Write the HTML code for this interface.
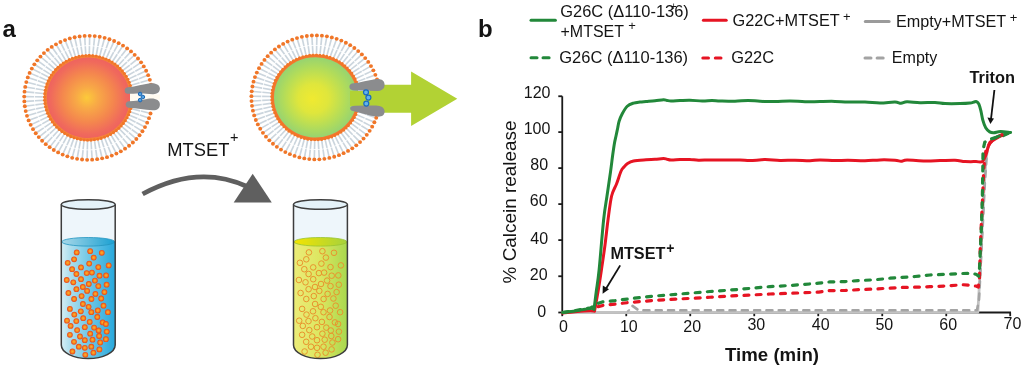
<!DOCTYPE html><html><head><meta charset="utf-8"><style>html,body{margin:0;padding:0;background:#fff;}svg{display:block;filter:blur(0.35px);}text{font-family:"Liberation Sans",sans-serif;fill:#141414;}</style></head><body>
<svg width="1024" height="370" viewBox="0 0 1024 370">
<defs>
<radialGradient id="coreA" cx="0.5" cy="0.5" r="0.5" fx="0.48" fy="0.5">
<stop offset="0" stop-color="#fcca3a"/><stop offset="0.25" stop-color="#f8aa46"/><stop offset="0.6" stop-color="#f4864e"/><stop offset="0.86" stop-color="#f06a5c"/><stop offset="1" stop-color="#ee6060"/></radialGradient>
<radialGradient id="coreB" cx="0.5" cy="0.5" r="0.5" fx="0.46" fy="0.52">
<stop offset="0" stop-color="#f0ea30"/><stop offset="0.35" stop-color="#dfe63c"/><stop offset="0.72" stop-color="#b2dc5a"/><stop offset="1" stop-color="#92d274"/></radialGradient>
<linearGradient id="liqA" x1="0" y1="0" x2="1" y2="0"><stop offset="0" stop-color="#d6eef4"/><stop offset="0.14" stop-color="#b2e0ee"/><stop offset="0.5" stop-color="#72c8e6"/><stop offset="1" stop-color="#28a8dc"/></linearGradient>
<linearGradient id="topA" x1="0" y1="0" x2="1" y2="0"><stop offset="0" stop-color="#a8d8e8"/><stop offset="1" stop-color="#1aa0d2"/></linearGradient>
<linearGradient id="liqB" x1="0" y1="0" x2="1" y2="0"><stop offset="0" stop-color="#ecec78"/><stop offset="0.5" stop-color="#dce660"/><stop offset="1" stop-color="#a8d84e"/></linearGradient>
<linearGradient id="topB" x1="0" y1="0" x2="1" y2="0"><stop offset="0" stop-color="#f4e400"/><stop offset="1" stop-color="#a6d23c"/></linearGradient>
<radialGradient id="dotg" cx="0.5" cy="0.5" r="0.5"><stop offset="0" stop-color="#fcb426"/><stop offset="0.45" stop-color="#f89020"/><stop offset="0.8" stop-color="#ee5a1c"/><stop offset="1" stop-color="#e64818"/></radialGradient>
</defs>
<text x="2.4" y="36.5" style="font-size:24px;font-weight:bold">a</text>
<polygon points="370,84.8 411.1,84.8 411.1,71.4 457.3,98.7 411.1,125.9 411.1,112.8 370,112.8" fill="#b2d234"/>
<g transform="translate(88.4,97.8) scale(1.035,1)"><circle cx="0" cy="0" r="41.8" fill="url(#coreA)"/><g stroke="#cbd5dd" stroke-width="1.6"><line x1="58.34" y1="15.25" x2="50.79" y2="13.27"/><line x1="50.02" y1="13.07" x2="42.57" y2="11.13"/><line x1="56.96" y1="19.78" x2="49.6" y2="17.22"/><line x1="48.84" y1="16.96" x2="41.57" y2="14.43"/><line x1="55.24" y1="24.19" x2="48.09" y2="21.06"/><line x1="47.36" y1="20.74" x2="40.31" y2="17.65"/><line x1="53.17" y1="28.44" x2="46.29" y2="24.77"/><line x1="45.59" y1="24.39" x2="38.8" y2="20.76"/><line x1="50.77" y1="32.53" x2="44.21" y2="28.32"/><line x1="43.53" y1="27.89" x2="37.05" y2="23.74"/><line x1="48.07" y1="36.41" x2="41.85" y2="31.7"/><line x1="41.21" y1="31.22" x2="35.07" y2="26.57"/><line x1="45.06" y1="40.07" x2="39.23" y2="34.89"/><line x1="38.63" y1="34.36" x2="32.88" y2="29.24"/><line x1="41.78" y1="43.48" x2="36.37" y2="37.86"/><line x1="35.82" y1="37.28" x2="30.48" y2="31.73"/><line x1="38.24" y1="46.63" x2="33.29" y2="40.6"/><line x1="32.78" y1="39.98" x2="27.9" y2="34.02"/><line x1="34.46" y1="49.48" x2="30" y2="43.08"/><line x1="29.55" y1="42.43" x2="25.15" y2="36.11"/><line x1="30.47" y1="52.03" x2="26.53" y2="45.3"/><line x1="26.13" y1="44.61" x2="22.24" y2="37.97"/><line x1="26.3" y1="54.26" x2="22.89" y2="47.25"/><line x1="22.55" y1="46.53" x2="19.19" y2="39.6"/><line x1="21.96" y1="56.16" x2="19.12" y2="48.9"/><line x1="18.83" y1="48.15" x2="16.02" y2="40.98"/><line x1="17.48" y1="57.71" x2="15.22" y2="50.24"/><line x1="14.99" y1="49.48" x2="12.76" y2="42.11"/><line x1="12.9" y1="58.9" x2="11.23" y2="51.28"/><line x1="11.06" y1="50.5" x2="9.41" y2="42.98"/><line x1="8.24" y1="59.73" x2="7.17" y2="52.01"/><line x1="7.06" y1="51.22" x2="6.01" y2="43.59"/><line x1="3.53" y1="60.2" x2="3.07" y2="52.41"/><line x1="3.02" y1="51.61" x2="2.57" y2="43.92"/><line x1="-1.21" y1="60.29" x2="-1.05" y2="52.49"/><line x1="-1.03" y1="51.69" x2="-0.88" y2="43.99"/><line x1="-5.93" y1="60.01" x2="-5.16" y2="52.25"/><line x1="-5.09" y1="51.45" x2="-4.33" y2="43.79"/><line x1="-10.62" y1="59.36" x2="-9.25" y2="51.68"/><line x1="-9.11" y1="50.89" x2="-7.75" y2="43.31"/><line x1="-15.25" y1="58.34" x2="-13.27" y2="50.79"/><line x1="-13.07" y1="50.02" x2="-11.13" y2="42.57"/><line x1="-19.78" y1="56.96" x2="-17.22" y2="49.6"/><line x1="-16.96" y1="48.84" x2="-14.43" y2="41.57"/><line x1="-24.19" y1="55.24" x2="-21.06" y2="48.09"/><line x1="-20.74" y1="47.36" x2="-17.65" y2="40.31"/><line x1="-28.44" y1="53.17" x2="-24.77" y2="46.29"/><line x1="-24.39" y1="45.59" x2="-20.76" y2="38.8"/><line x1="-32.53" y1="50.77" x2="-28.32" y2="44.21"/><line x1="-27.89" y1="43.53" x2="-23.74" y2="37.05"/><line x1="-36.41" y1="48.07" x2="-31.7" y2="41.85"/><line x1="-31.22" y1="41.21" x2="-26.57" y2="35.07"/><line x1="-40.07" y1="45.06" x2="-34.89" y2="39.23"/><line x1="-34.36" y1="38.63" x2="-29.24" y2="32.88"/><line x1="-43.48" y1="41.78" x2="-37.86" y2="36.37"/><line x1="-37.28" y1="35.82" x2="-31.73" y2="30.48"/><line x1="-46.63" y1="38.24" x2="-40.6" y2="33.29"/><line x1="-39.98" y1="32.78" x2="-34.02" y2="27.9"/><line x1="-49.48" y1="34.46" x2="-43.08" y2="30"/><line x1="-42.43" y1="29.55" x2="-36.11" y2="25.15"/><line x1="-52.03" y1="30.47" x2="-45.3" y2="26.53"/><line x1="-44.61" y1="26.13" x2="-37.97" y2="22.24"/><line x1="-54.26" y1="26.3" x2="-47.25" y2="22.89"/><line x1="-46.53" y1="22.55" x2="-39.6" y2="19.19"/><line x1="-56.16" y1="21.96" x2="-48.9" y2="19.12"/><line x1="-48.15" y1="18.83" x2="-40.98" y2="16.02"/><line x1="-57.71" y1="17.48" x2="-50.24" y2="15.22"/><line x1="-49.48" y1="14.99" x2="-42.11" y2="12.76"/><line x1="-58.9" y1="12.9" x2="-51.28" y2="11.23"/><line x1="-50.5" y1="11.06" x2="-42.98" y2="9.41"/><line x1="-59.73" y1="8.24" x2="-52.01" y2="7.17"/><line x1="-51.22" y1="7.06" x2="-43.59" y2="6.01"/><line x1="-60.2" y1="3.53" x2="-52.41" y2="3.07"/><line x1="-51.61" y1="3.02" x2="-43.92" y2="2.57"/><line x1="-60.29" y1="-1.21" x2="-52.49" y2="-1.05"/><line x1="-51.69" y1="-1.03" x2="-43.99" y2="-0.88"/><line x1="-60.01" y1="-5.93" x2="-52.25" y2="-5.16"/><line x1="-51.45" y1="-5.09" x2="-43.79" y2="-4.33"/><line x1="-59.36" y1="-10.62" x2="-51.68" y2="-9.25"/><line x1="-50.89" y1="-9.11" x2="-43.31" y2="-7.75"/><line x1="-58.34" y1="-15.25" x2="-50.79" y2="-13.27"/><line x1="-50.02" y1="-13.07" x2="-42.57" y2="-11.13"/><line x1="-56.96" y1="-19.78" x2="-49.6" y2="-17.22"/><line x1="-48.84" y1="-16.96" x2="-41.57" y2="-14.43"/><line x1="-55.24" y1="-24.19" x2="-48.09" y2="-21.06"/><line x1="-47.36" y1="-20.74" x2="-40.31" y2="-17.65"/><line x1="-53.17" y1="-28.44" x2="-46.29" y2="-24.77"/><line x1="-45.59" y1="-24.39" x2="-38.8" y2="-20.76"/><line x1="-50.77" y1="-32.53" x2="-44.21" y2="-28.32"/><line x1="-43.53" y1="-27.89" x2="-37.05" y2="-23.74"/><line x1="-48.07" y1="-36.41" x2="-41.85" y2="-31.7"/><line x1="-41.21" y1="-31.22" x2="-35.07" y2="-26.57"/><line x1="-45.06" y1="-40.07" x2="-39.23" y2="-34.89"/><line x1="-38.63" y1="-34.36" x2="-32.88" y2="-29.24"/><line x1="-41.78" y1="-43.48" x2="-36.37" y2="-37.86"/><line x1="-35.82" y1="-37.28" x2="-30.48" y2="-31.73"/><line x1="-38.24" y1="-46.63" x2="-33.29" y2="-40.6"/><line x1="-32.78" y1="-39.98" x2="-27.9" y2="-34.02"/><line x1="-34.46" y1="-49.48" x2="-30" y2="-43.08"/><line x1="-29.55" y1="-42.43" x2="-25.15" y2="-36.11"/><line x1="-30.47" y1="-52.03" x2="-26.53" y2="-45.3"/><line x1="-26.13" y1="-44.61" x2="-22.24" y2="-37.97"/><line x1="-26.3" y1="-54.26" x2="-22.89" y2="-47.25"/><line x1="-22.55" y1="-46.53" x2="-19.19" y2="-39.6"/><line x1="-21.96" y1="-56.16" x2="-19.12" y2="-48.9"/><line x1="-18.83" y1="-48.15" x2="-16.02" y2="-40.98"/><line x1="-17.48" y1="-57.71" x2="-15.22" y2="-50.24"/><line x1="-14.99" y1="-49.48" x2="-12.76" y2="-42.11"/><line x1="-12.9" y1="-58.9" x2="-11.23" y2="-51.28"/><line x1="-11.06" y1="-50.5" x2="-9.41" y2="-42.98"/><line x1="-8.24" y1="-59.73" x2="-7.17" y2="-52.01"/><line x1="-7.06" y1="-51.22" x2="-6.01" y2="-43.59"/><line x1="-3.53" y1="-60.2" x2="-3.07" y2="-52.41"/><line x1="-3.02" y1="-51.61" x2="-2.57" y2="-43.92"/><line x1="1.21" y1="-60.29" x2="1.05" y2="-52.49"/><line x1="1.03" y1="-51.69" x2="0.88" y2="-43.99"/><line x1="5.93" y1="-60.01" x2="5.16" y2="-52.25"/><line x1="5.09" y1="-51.45" x2="4.33" y2="-43.79"/><line x1="10.62" y1="-59.36" x2="9.25" y2="-51.68"/><line x1="9.11" y1="-50.89" x2="7.75" y2="-43.31"/><line x1="15.25" y1="-58.34" x2="13.27" y2="-50.79"/><line x1="13.07" y1="-50.02" x2="11.13" y2="-42.57"/><line x1="19.78" y1="-56.96" x2="17.22" y2="-49.6"/><line x1="16.96" y1="-48.84" x2="14.43" y2="-41.57"/><line x1="24.19" y1="-55.24" x2="21.06" y2="-48.09"/><line x1="20.74" y1="-47.36" x2="17.65" y2="-40.31"/><line x1="28.44" y1="-53.17" x2="24.77" y2="-46.29"/><line x1="24.39" y1="-45.59" x2="20.76" y2="-38.8"/><line x1="32.53" y1="-50.77" x2="28.32" y2="-44.21"/><line x1="27.89" y1="-43.53" x2="23.74" y2="-37.05"/><line x1="36.41" y1="-48.07" x2="31.7" y2="-41.85"/><line x1="31.22" y1="-41.21" x2="26.57" y2="-35.07"/><line x1="40.07" y1="-45.06" x2="34.89" y2="-39.23"/><line x1="34.36" y1="-38.63" x2="29.24" y2="-32.88"/><line x1="43.48" y1="-41.78" x2="37.86" y2="-36.37"/><line x1="37.28" y1="-35.82" x2="31.73" y2="-30.48"/><line x1="46.63" y1="-38.24" x2="40.6" y2="-33.29"/><line x1="39.98" y1="-32.78" x2="34.02" y2="-27.9"/><line x1="49.48" y1="-34.46" x2="43.08" y2="-30"/><line x1="42.43" y1="-29.55" x2="36.11" y2="-25.15"/><line x1="52.03" y1="-30.47" x2="45.3" y2="-26.53"/><line x1="44.61" y1="-26.13" x2="37.97" y2="-22.24"/><line x1="54.26" y1="-26.3" x2="47.25" y2="-22.89"/><line x1="46.53" y1="-22.55" x2="39.6" y2="-19.19"/><line x1="56.16" y1="-21.96" x2="48.9" y2="-19.12"/><line x1="48.15" y1="-18.83" x2="40.98" y2="-16.02"/><line x1="57.71" y1="-17.48" x2="50.24" y2="-15.22"/><line x1="49.48" y1="-14.99" x2="42.11" y2="-12.76"/><line x1="58.9" y1="-12.9" x2="51.28" y2="-11.23"/><line x1="50.5" y1="-11.06" x2="42.98" y2="-9.41"/></g><path d="M40.76,8.29 A41.6,41.6 0 1 1 40.76,-8.29" fill="none" stroke="#f5843a" stroke-width="2.8"/><g fill="#f07628"><circle cx="59.99" cy="15.68" r="1.9"/><circle cx="58.57" cy="20.33" r="1.9"/><circle cx="56.79" cy="24.87" r="1.9"/><circle cx="54.67" cy="29.25" r="1.9"/><circle cx="52.21" cy="33.45" r="1.9"/><circle cx="49.42" cy="37.44" r="1.9"/><circle cx="46.33" cy="41.2" r="1.9"/><circle cx="42.96" cy="44.71" r="1.9"/><circle cx="39.31" cy="47.94" r="1.9"/><circle cx="35.43" cy="50.88" r="1.9"/><circle cx="31.33" cy="53.5" r="1.9"/><circle cx="27.04" cy="55.79" r="1.9"/><circle cx="22.58" cy="57.74" r="1.9"/><circle cx="17.98" cy="59.34" r="1.9"/><circle cx="13.27" cy="60.56" r="1.9"/><circle cx="8.47" cy="61.42" r="1.9"/><circle cx="3.63" cy="61.89" r="1.9"/><circle cx="-1.24" cy="61.99" r="1.9"/><circle cx="-6.1" cy="61.7" r="1.9"/><circle cx="-10.92" cy="61.03" r="1.9"/><circle cx="-15.68" cy="59.99" r="1.9"/><circle cx="-20.33" cy="58.57" r="1.9"/><circle cx="-24.87" cy="56.79" r="1.9"/><circle cx="-29.25" cy="54.67" r="1.9"/><circle cx="-33.45" cy="52.21" r="1.9"/><circle cx="-37.44" cy="49.42" r="1.9"/><circle cx="-41.2" cy="46.33" r="1.9"/><circle cx="-44.71" cy="42.96" r="1.9"/><circle cx="-47.94" cy="39.31" r="1.9"/><circle cx="-50.88" cy="35.43" r="1.9"/><circle cx="-53.5" cy="31.33" r="1.9"/><circle cx="-55.79" cy="27.04" r="1.9"/><circle cx="-57.74" cy="22.58" r="1.9"/><circle cx="-59.34" cy="17.98" r="1.9"/><circle cx="-60.56" cy="13.27" r="1.9"/><circle cx="-61.42" cy="8.47" r="1.9"/><circle cx="-61.89" cy="3.63" r="1.9"/><circle cx="-61.99" cy="-1.24" r="1.9"/><circle cx="-61.7" cy="-6.1" r="1.9"/><circle cx="-61.03" cy="-10.92" r="1.9"/><circle cx="-59.99" cy="-15.68" r="1.9"/><circle cx="-58.57" cy="-20.33" r="1.9"/><circle cx="-56.79" cy="-24.87" r="1.9"/><circle cx="-54.67" cy="-29.25" r="1.9"/><circle cx="-52.21" cy="-33.45" r="1.9"/><circle cx="-49.42" cy="-37.44" r="1.9"/><circle cx="-46.33" cy="-41.2" r="1.9"/><circle cx="-42.96" cy="-44.71" r="1.9"/><circle cx="-39.31" cy="-47.94" r="1.9"/><circle cx="-35.43" cy="-50.88" r="1.9"/><circle cx="-31.33" cy="-53.5" r="1.9"/><circle cx="-27.04" cy="-55.79" r="1.9"/><circle cx="-22.58" cy="-57.74" r="1.9"/><circle cx="-17.98" cy="-59.34" r="1.9"/><circle cx="-13.27" cy="-60.56" r="1.9"/><circle cx="-8.47" cy="-61.42" r="1.9"/><circle cx="-3.63" cy="-61.89" r="1.9"/><circle cx="1.24" cy="-61.99" r="1.9"/><circle cx="6.1" cy="-61.7" r="1.9"/><circle cx="10.92" cy="-61.03" r="1.9"/><circle cx="15.68" cy="-59.99" r="1.9"/><circle cx="20.33" cy="-58.57" r="1.9"/><circle cx="24.87" cy="-56.79" r="1.9"/><circle cx="29.25" cy="-54.67" r="1.9"/><circle cx="33.45" cy="-52.21" r="1.9"/><circle cx="37.44" cy="-49.42" r="1.9"/><circle cx="41.2" cy="-46.33" r="1.9"/><circle cx="44.71" cy="-42.96" r="1.9"/><circle cx="47.94" cy="-39.31" r="1.9"/><circle cx="50.88" cy="-35.43" r="1.9"/><circle cx="53.5" cy="-31.33" r="1.9"/><circle cx="55.79" cy="-27.04" r="1.9"/><circle cx="57.74" cy="-22.58" r="1.9"/><circle cx="59.34" cy="-17.98" r="1.9"/><circle cx="60.56" cy="-13.27" r="1.9"/><circle cx="41.02" cy="10.72" r="1.55"/><circle cx="40.05" cy="13.91" r="1.55"/><circle cx="38.84" cy="17.01" r="1.55"/><circle cx="37.39" cy="20" r="1.55"/><circle cx="35.7" cy="22.87" r="1.55"/><circle cx="33.8" cy="25.6" r="1.55"/><circle cx="31.68" cy="28.18" r="1.55"/><circle cx="29.38" cy="30.57" r="1.55"/><circle cx="26.89" cy="32.79" r="1.55"/><circle cx="24.23" cy="34.79" r="1.55"/><circle cx="21.43" cy="36.59" r="1.55"/><circle cx="18.49" cy="38.16" r="1.55"/><circle cx="15.44" cy="39.49" r="1.55"/><circle cx="12.29" cy="40.58" r="1.55"/><circle cx="9.07" cy="41.42" r="1.55"/><circle cx="5.79" cy="42" r="1.55"/><circle cx="2.48" cy="42.33" r="1.55"/><circle cx="-0.85" cy="42.39" r="1.55"/><circle cx="-4.17" cy="42.19" r="1.55"/><circle cx="-7.47" cy="41.74" r="1.55"/><circle cx="-10.72" cy="41.02" r="1.55"/><circle cx="-13.91" cy="40.05" r="1.55"/><circle cx="-17.01" cy="38.84" r="1.55"/><circle cx="-20" cy="37.39" r="1.55"/><circle cx="-22.87" cy="35.7" r="1.55"/><circle cx="-25.6" cy="33.8" r="1.55"/><circle cx="-28.18" cy="31.68" r="1.55"/><circle cx="-30.57" cy="29.38" r="1.55"/><circle cx="-32.79" cy="26.89" r="1.55"/><circle cx="-34.79" cy="24.23" r="1.55"/><circle cx="-36.59" cy="21.43" r="1.55"/><circle cx="-38.16" cy="18.49" r="1.55"/><circle cx="-39.49" cy="15.44" r="1.55"/><circle cx="-40.58" cy="12.29" r="1.55"/><circle cx="-41.42" cy="9.07" r="1.55"/><circle cx="-42" cy="5.79" r="1.55"/><circle cx="-42.33" cy="2.48" r="1.55"/><circle cx="-42.39" cy="-0.85" r="1.55"/><circle cx="-42.19" cy="-4.17" r="1.55"/><circle cx="-41.74" cy="-7.47" r="1.55"/><circle cx="-41.02" cy="-10.72" r="1.55"/><circle cx="-40.05" cy="-13.91" r="1.55"/><circle cx="-38.84" cy="-17.01" r="1.55"/><circle cx="-37.39" cy="-20" r="1.55"/><circle cx="-35.7" cy="-22.87" r="1.55"/><circle cx="-33.8" cy="-25.6" r="1.55"/><circle cx="-31.68" cy="-28.18" r="1.55"/><circle cx="-29.38" cy="-30.57" r="1.55"/><circle cx="-26.89" cy="-32.79" r="1.55"/><circle cx="-24.23" cy="-34.79" r="1.55"/><circle cx="-21.43" cy="-36.59" r="1.55"/><circle cx="-18.49" cy="-38.16" r="1.55"/><circle cx="-15.44" cy="-39.49" r="1.55"/><circle cx="-12.29" cy="-40.58" r="1.55"/><circle cx="-9.07" cy="-41.42" r="1.55"/><circle cx="-5.79" cy="-42" r="1.55"/><circle cx="-2.48" cy="-42.33" r="1.55"/><circle cx="0.85" cy="-42.39" r="1.55"/><circle cx="4.17" cy="-42.19" r="1.55"/><circle cx="7.47" cy="-41.74" r="1.55"/><circle cx="10.72" cy="-41.02" r="1.55"/><circle cx="13.91" cy="-40.05" r="1.55"/><circle cx="17.01" cy="-38.84" r="1.55"/><circle cx="20" cy="-37.39" r="1.55"/><circle cx="22.87" cy="-35.7" r="1.55"/><circle cx="25.6" cy="-33.8" r="1.55"/><circle cx="28.18" cy="-31.68" r="1.55"/><circle cx="30.57" cy="-29.38" r="1.55"/><circle cx="32.79" cy="-26.89" r="1.55"/><circle cx="34.79" cy="-24.23" r="1.55"/><circle cx="36.59" cy="-21.43" r="1.55"/><circle cx="38.16" cy="-18.49" r="1.55"/><circle cx="39.49" cy="-15.44" r="1.55"/><circle cx="40.58" cy="-12.29" r="1.55"/><circle cx="41.42" cy="-9.07" r="1.55"/></g></g>
<g transform="translate(315.6,97.4) scale(1.035,1)"><circle cx="0" cy="0" r="41.8" fill="url(#coreB)"/><g stroke="#cbd5dd" stroke-width="1.6"><line x1="58.34" y1="15.25" x2="50.79" y2="13.27"/><line x1="50.02" y1="13.07" x2="42.57" y2="11.13"/><line x1="56.96" y1="19.78" x2="49.6" y2="17.22"/><line x1="48.84" y1="16.96" x2="41.57" y2="14.43"/><line x1="55.24" y1="24.19" x2="48.09" y2="21.06"/><line x1="47.36" y1="20.74" x2="40.31" y2="17.65"/><line x1="53.17" y1="28.44" x2="46.29" y2="24.77"/><line x1="45.59" y1="24.39" x2="38.8" y2="20.76"/><line x1="50.77" y1="32.53" x2="44.21" y2="28.32"/><line x1="43.53" y1="27.89" x2="37.05" y2="23.74"/><line x1="48.07" y1="36.41" x2="41.85" y2="31.7"/><line x1="41.21" y1="31.22" x2="35.07" y2="26.57"/><line x1="45.06" y1="40.07" x2="39.23" y2="34.89"/><line x1="38.63" y1="34.36" x2="32.88" y2="29.24"/><line x1="41.78" y1="43.48" x2="36.37" y2="37.86"/><line x1="35.82" y1="37.28" x2="30.48" y2="31.73"/><line x1="38.24" y1="46.63" x2="33.29" y2="40.6"/><line x1="32.78" y1="39.98" x2="27.9" y2="34.02"/><line x1="34.46" y1="49.48" x2="30" y2="43.08"/><line x1="29.55" y1="42.43" x2="25.15" y2="36.11"/><line x1="30.47" y1="52.03" x2="26.53" y2="45.3"/><line x1="26.13" y1="44.61" x2="22.24" y2="37.97"/><line x1="26.3" y1="54.26" x2="22.89" y2="47.25"/><line x1="22.55" y1="46.53" x2="19.19" y2="39.6"/><line x1="21.96" y1="56.16" x2="19.12" y2="48.9"/><line x1="18.83" y1="48.15" x2="16.02" y2="40.98"/><line x1="17.48" y1="57.71" x2="15.22" y2="50.24"/><line x1="14.99" y1="49.48" x2="12.76" y2="42.11"/><line x1="12.9" y1="58.9" x2="11.23" y2="51.28"/><line x1="11.06" y1="50.5" x2="9.41" y2="42.98"/><line x1="8.24" y1="59.73" x2="7.17" y2="52.01"/><line x1="7.06" y1="51.22" x2="6.01" y2="43.59"/><line x1="3.53" y1="60.2" x2="3.07" y2="52.41"/><line x1="3.02" y1="51.61" x2="2.57" y2="43.92"/><line x1="-1.21" y1="60.29" x2="-1.05" y2="52.49"/><line x1="-1.03" y1="51.69" x2="-0.88" y2="43.99"/><line x1="-5.93" y1="60.01" x2="-5.16" y2="52.25"/><line x1="-5.09" y1="51.45" x2="-4.33" y2="43.79"/><line x1="-10.62" y1="59.36" x2="-9.25" y2="51.68"/><line x1="-9.11" y1="50.89" x2="-7.75" y2="43.31"/><line x1="-15.25" y1="58.34" x2="-13.27" y2="50.79"/><line x1="-13.07" y1="50.02" x2="-11.13" y2="42.57"/><line x1="-19.78" y1="56.96" x2="-17.22" y2="49.6"/><line x1="-16.96" y1="48.84" x2="-14.43" y2="41.57"/><line x1="-24.19" y1="55.24" x2="-21.06" y2="48.09"/><line x1="-20.74" y1="47.36" x2="-17.65" y2="40.31"/><line x1="-28.44" y1="53.17" x2="-24.77" y2="46.29"/><line x1="-24.39" y1="45.59" x2="-20.76" y2="38.8"/><line x1="-32.53" y1="50.77" x2="-28.32" y2="44.21"/><line x1="-27.89" y1="43.53" x2="-23.74" y2="37.05"/><line x1="-36.41" y1="48.07" x2="-31.7" y2="41.85"/><line x1="-31.22" y1="41.21" x2="-26.57" y2="35.07"/><line x1="-40.07" y1="45.06" x2="-34.89" y2="39.23"/><line x1="-34.36" y1="38.63" x2="-29.24" y2="32.88"/><line x1="-43.48" y1="41.78" x2="-37.86" y2="36.37"/><line x1="-37.28" y1="35.82" x2="-31.73" y2="30.48"/><line x1="-46.63" y1="38.24" x2="-40.6" y2="33.29"/><line x1="-39.98" y1="32.78" x2="-34.02" y2="27.9"/><line x1="-49.48" y1="34.46" x2="-43.08" y2="30"/><line x1="-42.43" y1="29.55" x2="-36.11" y2="25.15"/><line x1="-52.03" y1="30.47" x2="-45.3" y2="26.53"/><line x1="-44.61" y1="26.13" x2="-37.97" y2="22.24"/><line x1="-54.26" y1="26.3" x2="-47.25" y2="22.89"/><line x1="-46.53" y1="22.55" x2="-39.6" y2="19.19"/><line x1="-56.16" y1="21.96" x2="-48.9" y2="19.12"/><line x1="-48.15" y1="18.83" x2="-40.98" y2="16.02"/><line x1="-57.71" y1="17.48" x2="-50.24" y2="15.22"/><line x1="-49.48" y1="14.99" x2="-42.11" y2="12.76"/><line x1="-58.9" y1="12.9" x2="-51.28" y2="11.23"/><line x1="-50.5" y1="11.06" x2="-42.98" y2="9.41"/><line x1="-59.73" y1="8.24" x2="-52.01" y2="7.17"/><line x1="-51.22" y1="7.06" x2="-43.59" y2="6.01"/><line x1="-60.2" y1="3.53" x2="-52.41" y2="3.07"/><line x1="-51.61" y1="3.02" x2="-43.92" y2="2.57"/><line x1="-60.29" y1="-1.21" x2="-52.49" y2="-1.05"/><line x1="-51.69" y1="-1.03" x2="-43.99" y2="-0.88"/><line x1="-60.01" y1="-5.93" x2="-52.25" y2="-5.16"/><line x1="-51.45" y1="-5.09" x2="-43.79" y2="-4.33"/><line x1="-59.36" y1="-10.62" x2="-51.68" y2="-9.25"/><line x1="-50.89" y1="-9.11" x2="-43.31" y2="-7.75"/><line x1="-58.34" y1="-15.25" x2="-50.79" y2="-13.27"/><line x1="-50.02" y1="-13.07" x2="-42.57" y2="-11.13"/><line x1="-56.96" y1="-19.78" x2="-49.6" y2="-17.22"/><line x1="-48.84" y1="-16.96" x2="-41.57" y2="-14.43"/><line x1="-55.24" y1="-24.19" x2="-48.09" y2="-21.06"/><line x1="-47.36" y1="-20.74" x2="-40.31" y2="-17.65"/><line x1="-53.17" y1="-28.44" x2="-46.29" y2="-24.77"/><line x1="-45.59" y1="-24.39" x2="-38.8" y2="-20.76"/><line x1="-50.77" y1="-32.53" x2="-44.21" y2="-28.32"/><line x1="-43.53" y1="-27.89" x2="-37.05" y2="-23.74"/><line x1="-48.07" y1="-36.41" x2="-41.85" y2="-31.7"/><line x1="-41.21" y1="-31.22" x2="-35.07" y2="-26.57"/><line x1="-45.06" y1="-40.07" x2="-39.23" y2="-34.89"/><line x1="-38.63" y1="-34.36" x2="-32.88" y2="-29.24"/><line x1="-41.78" y1="-43.48" x2="-36.37" y2="-37.86"/><line x1="-35.82" y1="-37.28" x2="-30.48" y2="-31.73"/><line x1="-38.24" y1="-46.63" x2="-33.29" y2="-40.6"/><line x1="-32.78" y1="-39.98" x2="-27.9" y2="-34.02"/><line x1="-34.46" y1="-49.48" x2="-30" y2="-43.08"/><line x1="-29.55" y1="-42.43" x2="-25.15" y2="-36.11"/><line x1="-30.47" y1="-52.03" x2="-26.53" y2="-45.3"/><line x1="-26.13" y1="-44.61" x2="-22.24" y2="-37.97"/><line x1="-26.3" y1="-54.26" x2="-22.89" y2="-47.25"/><line x1="-22.55" y1="-46.53" x2="-19.19" y2="-39.6"/><line x1="-21.96" y1="-56.16" x2="-19.12" y2="-48.9"/><line x1="-18.83" y1="-48.15" x2="-16.02" y2="-40.98"/><line x1="-17.48" y1="-57.71" x2="-15.22" y2="-50.24"/><line x1="-14.99" y1="-49.48" x2="-12.76" y2="-42.11"/><line x1="-12.9" y1="-58.9" x2="-11.23" y2="-51.28"/><line x1="-11.06" y1="-50.5" x2="-9.41" y2="-42.98"/><line x1="-8.24" y1="-59.73" x2="-7.17" y2="-52.01"/><line x1="-7.06" y1="-51.22" x2="-6.01" y2="-43.59"/><line x1="-3.53" y1="-60.2" x2="-3.07" y2="-52.41"/><line x1="-3.02" y1="-51.61" x2="-2.57" y2="-43.92"/><line x1="1.21" y1="-60.29" x2="1.05" y2="-52.49"/><line x1="1.03" y1="-51.69" x2="0.88" y2="-43.99"/><line x1="5.93" y1="-60.01" x2="5.16" y2="-52.25"/><line x1="5.09" y1="-51.45" x2="4.33" y2="-43.79"/><line x1="10.62" y1="-59.36" x2="9.25" y2="-51.68"/><line x1="9.11" y1="-50.89" x2="7.75" y2="-43.31"/><line x1="15.25" y1="-58.34" x2="13.27" y2="-50.79"/><line x1="13.07" y1="-50.02" x2="11.13" y2="-42.57"/><line x1="19.78" y1="-56.96" x2="17.22" y2="-49.6"/><line x1="16.96" y1="-48.84" x2="14.43" y2="-41.57"/><line x1="24.19" y1="-55.24" x2="21.06" y2="-48.09"/><line x1="20.74" y1="-47.36" x2="17.65" y2="-40.31"/><line x1="28.44" y1="-53.17" x2="24.77" y2="-46.29"/><line x1="24.39" y1="-45.59" x2="20.76" y2="-38.8"/><line x1="32.53" y1="-50.77" x2="28.32" y2="-44.21"/><line x1="27.89" y1="-43.53" x2="23.74" y2="-37.05"/><line x1="36.41" y1="-48.07" x2="31.7" y2="-41.85"/><line x1="31.22" y1="-41.21" x2="26.57" y2="-35.07"/><line x1="40.07" y1="-45.06" x2="34.89" y2="-39.23"/><line x1="34.36" y1="-38.63" x2="29.24" y2="-32.88"/><line x1="43.48" y1="-41.78" x2="37.86" y2="-36.37"/><line x1="37.28" y1="-35.82" x2="31.73" y2="-30.48"/><line x1="46.63" y1="-38.24" x2="40.6" y2="-33.29"/><line x1="39.98" y1="-32.78" x2="34.02" y2="-27.9"/><line x1="49.48" y1="-34.46" x2="43.08" y2="-30"/><line x1="42.43" y1="-29.55" x2="36.11" y2="-25.15"/><line x1="52.03" y1="-30.47" x2="45.3" y2="-26.53"/><line x1="44.61" y1="-26.13" x2="37.97" y2="-22.24"/><line x1="54.26" y1="-26.3" x2="47.25" y2="-22.89"/><line x1="46.53" y1="-22.55" x2="39.6" y2="-19.19"/><line x1="56.16" y1="-21.96" x2="48.9" y2="-19.12"/><line x1="48.15" y1="-18.83" x2="40.98" y2="-16.02"/><line x1="57.71" y1="-17.48" x2="50.24" y2="-15.22"/><line x1="49.48" y1="-14.99" x2="42.11" y2="-12.76"/><line x1="58.9" y1="-12.9" x2="51.28" y2="-11.23"/><line x1="50.5" y1="-11.06" x2="42.98" y2="-9.41"/></g><path d="M40.76,8.29 A41.6,41.6 0 1 1 40.76,-8.29" fill="none" stroke="#f7752e" stroke-width="2.8"/><g fill="#f07628"><circle cx="59.99" cy="15.68" r="1.9"/><circle cx="58.57" cy="20.33" r="1.9"/><circle cx="56.79" cy="24.87" r="1.9"/><circle cx="54.67" cy="29.25" r="1.9"/><circle cx="52.21" cy="33.45" r="1.9"/><circle cx="49.42" cy="37.44" r="1.9"/><circle cx="46.33" cy="41.2" r="1.9"/><circle cx="42.96" cy="44.71" r="1.9"/><circle cx="39.31" cy="47.94" r="1.9"/><circle cx="35.43" cy="50.88" r="1.9"/><circle cx="31.33" cy="53.5" r="1.9"/><circle cx="27.04" cy="55.79" r="1.9"/><circle cx="22.58" cy="57.74" r="1.9"/><circle cx="17.98" cy="59.34" r="1.9"/><circle cx="13.27" cy="60.56" r="1.9"/><circle cx="8.47" cy="61.42" r="1.9"/><circle cx="3.63" cy="61.89" r="1.9"/><circle cx="-1.24" cy="61.99" r="1.9"/><circle cx="-6.1" cy="61.7" r="1.9"/><circle cx="-10.92" cy="61.03" r="1.9"/><circle cx="-15.68" cy="59.99" r="1.9"/><circle cx="-20.33" cy="58.57" r="1.9"/><circle cx="-24.87" cy="56.79" r="1.9"/><circle cx="-29.25" cy="54.67" r="1.9"/><circle cx="-33.45" cy="52.21" r="1.9"/><circle cx="-37.44" cy="49.42" r="1.9"/><circle cx="-41.2" cy="46.33" r="1.9"/><circle cx="-44.71" cy="42.96" r="1.9"/><circle cx="-47.94" cy="39.31" r="1.9"/><circle cx="-50.88" cy="35.43" r="1.9"/><circle cx="-53.5" cy="31.33" r="1.9"/><circle cx="-55.79" cy="27.04" r="1.9"/><circle cx="-57.74" cy="22.58" r="1.9"/><circle cx="-59.34" cy="17.98" r="1.9"/><circle cx="-60.56" cy="13.27" r="1.9"/><circle cx="-61.42" cy="8.47" r="1.9"/><circle cx="-61.89" cy="3.63" r="1.9"/><circle cx="-61.99" cy="-1.24" r="1.9"/><circle cx="-61.7" cy="-6.1" r="1.9"/><circle cx="-61.03" cy="-10.92" r="1.9"/><circle cx="-59.99" cy="-15.68" r="1.9"/><circle cx="-58.57" cy="-20.33" r="1.9"/><circle cx="-56.79" cy="-24.87" r="1.9"/><circle cx="-54.67" cy="-29.25" r="1.9"/><circle cx="-52.21" cy="-33.45" r="1.9"/><circle cx="-49.42" cy="-37.44" r="1.9"/><circle cx="-46.33" cy="-41.2" r="1.9"/><circle cx="-42.96" cy="-44.71" r="1.9"/><circle cx="-39.31" cy="-47.94" r="1.9"/><circle cx="-35.43" cy="-50.88" r="1.9"/><circle cx="-31.33" cy="-53.5" r="1.9"/><circle cx="-27.04" cy="-55.79" r="1.9"/><circle cx="-22.58" cy="-57.74" r="1.9"/><circle cx="-17.98" cy="-59.34" r="1.9"/><circle cx="-13.27" cy="-60.56" r="1.9"/><circle cx="-8.47" cy="-61.42" r="1.9"/><circle cx="-3.63" cy="-61.89" r="1.9"/><circle cx="1.24" cy="-61.99" r="1.9"/><circle cx="6.1" cy="-61.7" r="1.9"/><circle cx="10.92" cy="-61.03" r="1.9"/><circle cx="15.68" cy="-59.99" r="1.9"/><circle cx="20.33" cy="-58.57" r="1.9"/><circle cx="24.87" cy="-56.79" r="1.9"/><circle cx="29.25" cy="-54.67" r="1.9"/><circle cx="33.45" cy="-52.21" r="1.9"/><circle cx="37.44" cy="-49.42" r="1.9"/><circle cx="41.2" cy="-46.33" r="1.9"/><circle cx="44.71" cy="-42.96" r="1.9"/><circle cx="47.94" cy="-39.31" r="1.9"/><circle cx="50.88" cy="-35.43" r="1.9"/><circle cx="53.5" cy="-31.33" r="1.9"/><circle cx="55.79" cy="-27.04" r="1.9"/><circle cx="57.74" cy="-22.58" r="1.9"/><circle cx="59.34" cy="-17.98" r="1.9"/><circle cx="60.56" cy="-13.27" r="1.9"/><circle cx="41.02" cy="10.72" r="1.55"/><circle cx="40.05" cy="13.91" r="1.55"/><circle cx="38.84" cy="17.01" r="1.55"/><circle cx="37.39" cy="20" r="1.55"/><circle cx="35.7" cy="22.87" r="1.55"/><circle cx="33.8" cy="25.6" r="1.55"/><circle cx="31.68" cy="28.18" r="1.55"/><circle cx="29.38" cy="30.57" r="1.55"/><circle cx="26.89" cy="32.79" r="1.55"/><circle cx="24.23" cy="34.79" r="1.55"/><circle cx="21.43" cy="36.59" r="1.55"/><circle cx="18.49" cy="38.16" r="1.55"/><circle cx="15.44" cy="39.49" r="1.55"/><circle cx="12.29" cy="40.58" r="1.55"/><circle cx="9.07" cy="41.42" r="1.55"/><circle cx="5.79" cy="42" r="1.55"/><circle cx="2.48" cy="42.33" r="1.55"/><circle cx="-0.85" cy="42.39" r="1.55"/><circle cx="-4.17" cy="42.19" r="1.55"/><circle cx="-7.47" cy="41.74" r="1.55"/><circle cx="-10.72" cy="41.02" r="1.55"/><circle cx="-13.91" cy="40.05" r="1.55"/><circle cx="-17.01" cy="38.84" r="1.55"/><circle cx="-20" cy="37.39" r="1.55"/><circle cx="-22.87" cy="35.7" r="1.55"/><circle cx="-25.6" cy="33.8" r="1.55"/><circle cx="-28.18" cy="31.68" r="1.55"/><circle cx="-30.57" cy="29.38" r="1.55"/><circle cx="-32.79" cy="26.89" r="1.55"/><circle cx="-34.79" cy="24.23" r="1.55"/><circle cx="-36.59" cy="21.43" r="1.55"/><circle cx="-38.16" cy="18.49" r="1.55"/><circle cx="-39.49" cy="15.44" r="1.55"/><circle cx="-40.58" cy="12.29" r="1.55"/><circle cx="-41.42" cy="9.07" r="1.55"/><circle cx="-42" cy="5.79" r="1.55"/><circle cx="-42.33" cy="2.48" r="1.55"/><circle cx="-42.39" cy="-0.85" r="1.55"/><circle cx="-42.19" cy="-4.17" r="1.55"/><circle cx="-41.74" cy="-7.47" r="1.55"/><circle cx="-41.02" cy="-10.72" r="1.55"/><circle cx="-40.05" cy="-13.91" r="1.55"/><circle cx="-38.84" cy="-17.01" r="1.55"/><circle cx="-37.39" cy="-20" r="1.55"/><circle cx="-35.7" cy="-22.87" r="1.55"/><circle cx="-33.8" cy="-25.6" r="1.55"/><circle cx="-31.68" cy="-28.18" r="1.55"/><circle cx="-29.38" cy="-30.57" r="1.55"/><circle cx="-26.89" cy="-32.79" r="1.55"/><circle cx="-24.23" cy="-34.79" r="1.55"/><circle cx="-21.43" cy="-36.59" r="1.55"/><circle cx="-18.49" cy="-38.16" r="1.55"/><circle cx="-15.44" cy="-39.49" r="1.55"/><circle cx="-12.29" cy="-40.58" r="1.55"/><circle cx="-9.07" cy="-41.42" r="1.55"/><circle cx="-5.79" cy="-42" r="1.55"/><circle cx="-2.48" cy="-42.33" r="1.55"/><circle cx="0.85" cy="-42.39" r="1.55"/><circle cx="4.17" cy="-42.19" r="1.55"/><circle cx="7.47" cy="-41.74" r="1.55"/><circle cx="10.72" cy="-41.02" r="1.55"/><circle cx="13.91" cy="-40.05" r="1.55"/><circle cx="17.01" cy="-38.84" r="1.55"/><circle cx="20" cy="-37.39" r="1.55"/><circle cx="22.87" cy="-35.7" r="1.55"/><circle cx="25.6" cy="-33.8" r="1.55"/><circle cx="28.18" cy="-31.68" r="1.55"/><circle cx="30.57" cy="-29.38" r="1.55"/><circle cx="32.79" cy="-26.89" r="1.55"/><circle cx="34.79" cy="-24.23" r="1.55"/><circle cx="36.59" cy="-21.43" r="1.55"/><circle cx="38.16" cy="-18.49" r="1.55"/><circle cx="39.49" cy="-15.44" r="1.55"/><circle cx="40.58" cy="-12.29" r="1.55"/><circle cx="41.42" cy="-9.07" r="1.55"/></g></g>
<path d="M130,92.5 L139,94.5 L160,94.5 L160,99.5 L139,99.5 L130,102.5 Z" fill="#fffaf0"/><path d="M124.7,90.5 C124.7,88.5 126,87.4 128,87.3 C136,86.6 143,84.2 150,83.3 C156,82.6 159.9,85 159.9,88.6 C159.9,92.4 157,94.3 153,94.2 C147,94.1 143,93.3 137,93.6 C132,93.9 128,93.8 127,93.7 C125.5,93.5 124.7,92.3 124.7,90.5 Z" fill="#8b8c8e"/><path d="M125.7,104.5 C125.7,102.5 127,101.3 129,101.2 C135,100.9 141,100.4 148,98.8 C155,97.6 159.9,100 159.9,104.2 C159.9,108.5 157,110.6 152.5,110.3 C145,109.8 136,108.3 129,107.8 C127,107.6 125.7,106.5 125.7,104.5 Z" fill="#8b8c8e"/><g fill="#4ea2e2" stroke="#1c66b4" stroke-width="1"><circle cx="140.1" cy="94" r="1.8"/><circle cx="142.9" cy="97" r="1.8"/><circle cx="140.1" cy="100.1" r="1.8"/></g>
<path d="M350,91 L385,91 L385,106 L350,106 Z" fill="#b2d234"/><path d="M349.4,86.9 C349.4,84.5 351,83.6 353.5,83.3 C361,82.4 368,80.5 375,79.3 C381,78.4 384.6,80.5 384.6,84.8 C384.6,89.5 381,91.1 376,91 C369,90.8 362,90.8 355,90.5 C351.5,90.3 349.4,89.3 349.4,86.9 Z" fill="#8b8c8e"/><path d="M350.1,108.5 C350.1,106.6 352,106 355,105.8 C362,105.4 369,105.4 376,105.4 C381,105.5 384.6,107.5 384.6,111.5 C384.6,115.5 381.5,117 377,116.6 C369,115.8 361,113 355,111.5 C351.8,110.9 350.1,110.2 350.1,108.5 Z" fill="#8b8c8e"/><g fill="#62b4ea" stroke="#1a6ac0" stroke-width="1.2"><circle cx="366" cy="92.3" r="2.5"/><circle cx="368.4" cy="97.6" r="2.5"/><circle cx="366.3" cy="103.6" r="2.5"/></g>
<text transform="translate(167.21,155.6) scale(0.9919,1)" style="font-size:18.5px">MTSET</text>
<text x="230.05" y="142.2" style="font-size:14.5px">+</text>
<path d="M142.6,194 Q198,164 247,186.5" fill="none" stroke="#5f5f5f" stroke-width="4.8"/>
<polygon points="252.7,173.8 271.8,202.5 233.7,202.5" fill="#5f5f5f"/>
<path d="M61.3,204.5 L61.3,345 A26.95,13.5 0 0 0 115.2,345 L115.2,204.5 Z" fill="#eef6fb"/><path d="M61.3,241.8 L61.3,345 A26.95,13.5 0 0 0 115.2,345 L115.2,241.8 Z" fill="url(#liqA)"/><g fill="url(#dotg)" ><circle cx="76.7" cy="252.4" r="2.9"/><circle cx="90.2" cy="251.2" r="2.9"/><circle cx="101.8" cy="252.8" r="2.9"/><circle cx="74.1" cy="259.3" r="2.9"/><circle cx="93.7" cy="257.6" r="2.9"/><circle cx="67.7" cy="262.8" r="2.9"/><circle cx="89.2" cy="263.6" r="2.9"/><circle cx="108.7" cy="265.4" r="2.9"/><circle cx="81" cy="267.4" r="2.9"/><circle cx="98.3" cy="267.1" r="2.9"/><circle cx="72.1" cy="269.2" r="2.9"/><circle cx="76.4" cy="274" r="2.9"/><circle cx="86.7" cy="273.1" r="2.9"/><circle cx="91.9" cy="272.6" r="2.9"/><circle cx="99.5" cy="275.7" r="2.9"/><circle cx="106.1" cy="275.4" r="2.9"/><circle cx="66.7" cy="280" r="2.9"/><circle cx="81" cy="279.2" r="2.9"/><circle cx="94.9" cy="280.6" r="2.9"/><circle cx="73.3" cy="282.3" r="2.9"/><circle cx="88.8" cy="284" r="2.9"/><circle cx="106.6" cy="284.7" r="2.9"/><circle cx="82.8" cy="287" r="2.9"/><circle cx="98.3" cy="286.1" r="2.9"/><circle cx="76.4" cy="289.2" r="2.9"/><circle cx="87.1" cy="290.9" r="2.9"/><circle cx="104.4" cy="292.1" r="2.9"/><circle cx="68.4" cy="293" r="2.9"/><circle cx="95.4" cy="293.9" r="2.9"/><circle cx="81.6" cy="296.1" r="2.9"/><circle cx="74.1" cy="299" r="2.9"/><circle cx="91.4" cy="299" r="2.9"/><circle cx="101.2" cy="298.5" r="2.9"/><circle cx="82.9" cy="304" r="2.9"/><circle cx="69.9" cy="308.9" r="2.9"/><circle cx="88.6" cy="306.8" r="2.9"/><circle cx="103.5" cy="305.7" r="2.9"/><circle cx="80.8" cy="311.3" r="2.9"/><circle cx="91.3" cy="312.2" r="2.9"/><circle cx="97.8" cy="310.5" r="2.9"/><circle cx="107.9" cy="312.2" r="2.9"/><circle cx="74.3" cy="314.6" r="2.9"/><circle cx="83.2" cy="318.2" r="2.9"/><circle cx="97.3" cy="317" r="2.9"/><circle cx="67" cy="320.7" r="2.9"/><circle cx="76.3" cy="321.1" r="2.9"/><circle cx="89.7" cy="321.9" r="2.9"/><circle cx="102.7" cy="322.4" r="2.9"/><circle cx="105.9" cy="324" r="2.9"/><circle cx="70.6" cy="325.9" r="2.9"/><circle cx="84.8" cy="327.2" r="2.9"/><circle cx="94.1" cy="327.6" r="2.9"/><circle cx="98.6" cy="330.5" r="2.9"/><circle cx="77.1" cy="330.1" r="2.9"/><circle cx="106.7" cy="331.6" r="2.9"/><circle cx="69.9" cy="334.8" r="2.9"/><circle cx="80" cy="336.5" r="2.9"/><circle cx="90.2" cy="333.7" r="2.9"/><circle cx="99.1" cy="336" r="2.9"/><circle cx="84.8" cy="340.2" r="2.9"/><circle cx="92.5" cy="339.7" r="2.9"/><circle cx="74" cy="341.8" r="2.9"/><circle cx="100.2" cy="342.5" r="2.9"/><circle cx="105.9" cy="339.2" r="2.9"/><circle cx="78.8" cy="346.7" r="2.9"/><circle cx="84.8" cy="347.8" r="2.9"/><circle cx="91.3" cy="346.7" r="2.9"/><circle cx="99.4" cy="349.4" r="2.9"/><circle cx="72.4" cy="351.5" r="2.9"/><circle cx="85.3" cy="354.8" r="2.9"/><circle cx="93.4" cy="352.7" r="2.9"/></g><ellipse cx="88.25" cy="241.8" rx="26.45" ry="4.3" fill="url(#topA)" stroke="#2496c0" stroke-width="0.8"/><path d="M61.3,204.5 L61.3,345 A26.95,13.5 0 0 0 115.2,345 L115.2,204.5" fill="none" stroke="#3d3d3d" stroke-width="1.5"/><ellipse cx="88.25" cy="204.5" rx="26.95" ry="4.8" fill="#e4f2f9" stroke="#3d3d3d" stroke-width="1.5"/>
<path d="M293.5,204.5 L293.5,345 A26.95,13.5 0 0 0 347.4,345 L347.4,204.5 Z" fill="#eef6fb"/><path d="M293.5,241.8 L293.5,345 A26.95,13.5 0 0 0 347.4,345 L347.4,241.8 Z" fill="url(#liqB)"/><g fill="none" stroke="#e9942e" stroke-width="1"><circle cx="308.9" cy="252.4" r="2.8"/><circle cx="322.4" cy="251.2" r="2.8"/><circle cx="334" cy="252.8" r="2.8"/><circle cx="306.3" cy="259.3" r="2.8"/><circle cx="325.9" cy="257.6" r="2.8"/><circle cx="299.9" cy="262.8" r="2.8"/><circle cx="321.4" cy="263.6" r="2.8"/><circle cx="340.9" cy="265.4" r="2.8"/><circle cx="313.2" cy="267.4" r="2.8"/><circle cx="330.5" cy="267.1" r="2.8"/><circle cx="304.3" cy="269.2" r="2.8"/><circle cx="308.6" cy="274" r="2.8"/><circle cx="318.9" cy="273.1" r="2.8"/><circle cx="324.1" cy="272.6" r="2.8"/><circle cx="331.7" cy="275.7" r="2.8"/><circle cx="338.3" cy="275.4" r="2.8"/><circle cx="298.9" cy="280" r="2.8"/><circle cx="313.2" cy="279.2" r="2.8"/><circle cx="327.1" cy="280.6" r="2.8"/><circle cx="305.5" cy="282.3" r="2.8"/><circle cx="321" cy="284" r="2.8"/><circle cx="338.8" cy="284.7" r="2.8"/><circle cx="315" cy="287" r="2.8"/><circle cx="330.5" cy="286.1" r="2.8"/><circle cx="308.6" cy="289.2" r="2.8"/><circle cx="319.3" cy="290.9" r="2.8"/><circle cx="336.6" cy="292.1" r="2.8"/><circle cx="300.6" cy="293" r="2.8"/><circle cx="327.6" cy="293.9" r="2.8"/><circle cx="313.8" cy="296.1" r="2.8"/><circle cx="306.3" cy="299" r="2.8"/><circle cx="323.6" cy="299" r="2.8"/><circle cx="333.4" cy="298.5" r="2.8"/><circle cx="315.1" cy="304" r="2.8"/><circle cx="302.1" cy="308.9" r="2.8"/><circle cx="320.8" cy="306.8" r="2.8"/><circle cx="335.7" cy="305.7" r="2.8"/><circle cx="313" cy="311.3" r="2.8"/><circle cx="323.5" cy="312.2" r="2.8"/><circle cx="330" cy="310.5" r="2.8"/><circle cx="340.1" cy="312.2" r="2.8"/><circle cx="306.5" cy="314.6" r="2.8"/><circle cx="315.4" cy="318.2" r="2.8"/><circle cx="329.5" cy="317" r="2.8"/><circle cx="299.2" cy="320.7" r="2.8"/><circle cx="308.5" cy="321.1" r="2.8"/><circle cx="321.9" cy="321.9" r="2.8"/><circle cx="334.9" cy="322.4" r="2.8"/><circle cx="338.1" cy="324" r="2.8"/><circle cx="302.8" cy="325.9" r="2.8"/><circle cx="317" cy="327.2" r="2.8"/><circle cx="326.3" cy="327.6" r="2.8"/><circle cx="330.8" cy="330.5" r="2.8"/><circle cx="309.3" cy="330.1" r="2.8"/><circle cx="338.9" cy="331.6" r="2.8"/><circle cx="302.1" cy="334.8" r="2.8"/><circle cx="312.2" cy="336.5" r="2.8"/><circle cx="322.4" cy="333.7" r="2.8"/><circle cx="331.3" cy="336" r="2.8"/><circle cx="317" cy="340.2" r="2.8"/><circle cx="324.7" cy="339.7" r="2.8"/><circle cx="306.2" cy="341.8" r="2.8"/><circle cx="332.4" cy="342.5" r="2.8"/><circle cx="338.1" cy="339.2" r="2.8"/><circle cx="311" cy="346.7" r="2.8"/><circle cx="317" cy="347.8" r="2.8"/><circle cx="323.5" cy="346.7" r="2.8"/><circle cx="331.6" cy="349.4" r="2.8"/><circle cx="304.6" cy="351.5" r="2.8"/><circle cx="317.5" cy="354.8" r="2.8"/><circle cx="325.6" cy="352.7" r="2.8"/></g><ellipse cx="320.45" cy="241.8" rx="26.45" ry="4.3" fill="url(#topB)" stroke="#98c430" stroke-width="0.8"/><path d="M293.5,204.5 L293.5,345 A26.95,13.5 0 0 0 347.4,345 L347.4,204.5" fill="none" stroke="#3d3d3d" stroke-width="1.5"/><ellipse cx="320.45" cy="204.5" rx="26.95" ry="4.8" fill="#e4f2f9" stroke="#3d3d3d" stroke-width="1.5"/>
<text x="477.9" y="36.5" style="font-size:24px;font-weight:bold">b</text>
<g stroke-width="3" stroke-linecap="round" fill="none">
<line x1="531" y1="20.25" x2="555.4" y2="20.25" stroke="#22883a"/>
<line x1="703.4" y1="20.25" x2="726.2" y2="20.25" stroke="#e61423"/>
<line x1="865.3" y1="21.5" x2="889.1" y2="21.5" stroke="#9b9b9b"/>
<line x1="531" y1="57.75" x2="537" y2="57.75" stroke="#22883a"/><line x1="543" y1="57.75" x2="549.1" y2="57.75" stroke="#22883a"/>
<line x1="702.8" y1="58" x2="708.5" y2="58" stroke="#e61423"/><line x1="715.3" y1="58" x2="721" y2="58" stroke="#e61423"/>
<line x1="865" y1="58" x2="871" y2="58" stroke="#a3a3a3"/><line x1="877.1" y1="58" x2="883.2" y2="58" stroke="#a3a3a3"/>
</g>
<text transform="translate(560.29,16.9) scale(1.0087,1)" style="font-size:16.3px">G26C (Δ110-136)</text>
<text transform="translate(560.52,36.9) scale(0.9797,1)" style="font-size:16.3px">+MTSET</text>
<text x="628.2" y="29.9" style="font-size:13px">+</text>
<text x="670.7" y="10.4" style="font-size:10px">+</text>
<text x="732.55" y="26.25" style="font-size:16.3px">G22C+MTSET</text>
<text x="842.9" y="21.2" style="font-size:13px">+</text>
<text transform="translate(895.91,26.9) scale(0.9945,1)" style="font-size:16.3px">Empty+MTSET</text>
<text x="1009.75" y="21.8" style="font-size:13px">+</text>
<text transform="translate(559.29,62.75) scale(1.0119,1)" style="font-size:16.3px">G26C (Δ110-136)</text>
<text transform="translate(731.19,63) scale(1.0073,1)" style="font-size:16.3px">G22C</text>
<text transform="translate(891.81,62.75) scale(0.9867,1)" style="font-size:16.3px">Empty</text>
<g stroke="#1a1a1a" stroke-width="1.8"><line x1="562.25" y1="96.25" x2="562.25" y2="313.4" /><line x1="558.3" y1="312.5" x2="562.25" y2="312.5" /><line x1="558.3" y1="276.25" x2="562.25" y2="276.25" /><line x1="558.3" y1="240.1" x2="562.25" y2="240.1" /><line x1="558.3" y1="204.1" x2="562.25" y2="204.1" /><line x1="558.3" y1="168.1" x2="562.25" y2="168.1" /><line x1="558.3" y1="132.1" x2="562.25" y2="132.1" /><line x1="558.3" y1="96.25" x2="562.25" y2="96.25" /><line x1="561.4" y1="312.5" x2="1011" y2="312.5" /><line x1="562.25" y1="312.5" x2="562.25" y2="316.2" /><line x1="626.25" y1="312.5" x2="626.25" y2="316.2" /><line x1="690.25" y1="312.5" x2="690.25" y2="316.2" /><line x1="754.25" y1="312.5" x2="754.25" y2="316.2" /><line x1="818.25" y1="312.5" x2="818.25" y2="316.2" /><line x1="882.25" y1="312.5" x2="882.25" y2="316.2" /><line x1="946.25" y1="312.5" x2="946.25" y2="316.2" /><line x1="1010.2" y1="312.5" x2="1010.2" y2="316.2" /></g>
<text x="523.75" y="98.2" style="font-size:16px">120</text>
<text x="523.65" y="134.1" style="font-size:16px">100</text>
<text x="530.25" y="170.3" style="font-size:16px">80</text>
<text x="529.8" y="206.4" style="font-size:16px">60</text>
<text x="530.3" y="244.2" style="font-size:16px">40</text>
<text x="529.8" y="280.4" style="font-size:16px">20</text>
<text x="537.25" y="316.8" style="font-size:16px">0</text>
<text x="559.1" y="332" style="font-size:16px">0</text>
<text x="619.95" y="332.2" style="font-size:16px">10</text>
<text x="683.25" y="332.2" style="font-size:16px">20</text>
<text x="747.45" y="329.8" style="font-size:16px">30</text>
<text x="811.75" y="329.8" style="font-size:16px">40</text>
<text x="875.45" y="329.8" style="font-size:16px">50</text>
<text x="939.25" y="329.8" style="font-size:16px">60</text>
<text x="1003.6" y="329.4" style="font-size:16px">70</text>
<text transform="translate(725,361.25) scale(1.0087,1)" style="font-size:18.5px;font-weight:bold">Time (min)</text>
<text transform="translate(515.8,202) rotate(-90)" text-anchor="middle" style="font-size:18.9px">% Calcein realease</text>
<polyline points="562.5,312.5 977.8,312.3 979.7,279.5 982,230 984,190 986,160 988,146 994,138 1002,134.5 1008,132.6" fill="none" stroke="#c3c3c3" stroke-width="2.8" stroke-linejoin="round" stroke-linecap="round"/>
<polyline points="632.5,305.9 638.3,310.1 642,310.3 977,310.3 979,300 982,240 985,180 987,150 993,139 1002,135 1008,132.6" fill="none" stroke="#a4a4a4" stroke-width="2.6" stroke-linejoin="round" stroke-linecap="round" stroke-dasharray="6 6.3" stroke-dashoffset="0"/>
<line x1="627.6" y1="311.2" x2="629.2" y2="310" stroke="#b0b0b0" stroke-width="2" stroke-linecap="round"/>
<path d="M562.5,313 C564.58,312.8 570.42,312.17 575,311.8 C579.58,311.43 586.75,310.88 590,310.8 C593.25,310.72 593.75,311.22 594.5,311.3 C595.13,307.75 597.15,296.88 598.3,290 C599.45,283.12 600.28,277.5 601.4,270 C602.52,262.5 603.9,253.33 605,245 C606.1,236.67 606.9,228.17 608,220 C609.1,211.83 610.17,202.04 611.6,196 C613.03,189.96 615.03,187.88 616.6,183.75 C618.17,179.62 619.77,174.04 621,171.25 C622.23,168.46 622.96,168.25 624,167 C625.04,165.75 625.67,164.75 627.25,163.75 C628.83,162.75 630.38,161.67 633.5,161 C636.62,160.33 642.42,160.03 646,159.75 C649.58,159.47 652.08,159.51 655,159.3 C657.92,159.09 661.5,158.52 663.5,158.5 C665.5,158.48 665.75,158.95 667,159.2 C668.25,159.45 668.83,159.93 671,160 C673.17,160.07 676.88,159.7 680,159.6 C683.12,159.5 686.67,159.29 689.75,159.4 C692.83,159.51 695.12,160.17 698.5,160.25 C701.88,160.33 705.75,159.94 710,159.9 C714.25,159.86 719,160 724,160 C729,160 735.67,159.8 740,159.9 C744.33,160 745.83,160.65 750,160.6 C754.17,160.55 760,159.62 765,159.6 C770,159.58 775,160.4 780,160.5 C785,160.6 790,160.15 795,160.2 C800,160.25 805.83,160.85 810,160.8 C814.17,160.75 815.83,159.93 820,159.9 C824.17,159.87 830.33,160.53 835,160.6 C839.67,160.67 843,160.27 848,160.3 C853,160.33 859.67,160.87 865,160.8 C870.33,160.73 875,160 880,159.9 C885,159.8 891.5,159.97 895,160.2 C898.5,160.43 899,161.33 901,161.3 C903,161.27 903,160.07 907,160 C911,159.93 919.5,160.8 925,160.9 C930.5,161 935,160.72 940,160.6 C945,160.48 950.83,160.05 955,160.2 C959.17,160.35 961.5,161.27 965,161.5 C968.5,161.73 973.12,161.6 976,161.6 C978.88,161.6 980.63,162.67 982.3,161.5 C983.97,160.33 984.97,157.18 986,154.6 C987.03,152.02 987.47,148.27 988.5,146 C989.53,143.73 990.75,142.35 992.2,141 C993.65,139.65 995.52,138.87 997.2,137.9 C998.88,136.93 1001.45,135.65 1002.3,135.2" fill="none" stroke="#e61423" stroke-width="3" stroke-linejoin="round" stroke-linecap="round"/>
<polyline points="597.2,306.9 604.2,305.1 615,304.1 630,302.4 652.5,300.6 670,299.4 690,298.4 710,297.25 730,296 750,295.1 770,294 790,293.3 805,292.7 818.75,292.1 830,290.6 845,290.5 860,289.6 875,289 890,288.1 900.5,287.5 915,287.2 930,286.7 945,286 963,284.75 972,285.5 976.5,286.2 978.3,287 979.5,278 980.2,250 981.5,220 982.5,200 983.5,175 984.5,160 986,150 990.1,142.3 996.2,137.4 1002.3,134.5 1008,132.6" fill="none" stroke="#e61423" stroke-width="3.2" stroke-linejoin="round" stroke-linecap="round" stroke-dasharray="4.9 7.3" stroke-dashoffset="-1"/>
<polyline points="562.5,312.4 575,310.6 585,308.8 591,307.8 595,304.4 602.3,301.9 615,300.6 630,298.7 652.5,296.25 670,294.8 690,293.2 710,291.5 730,290.1 750,288.4 770,286.6 790,285.5 805,284.4 818.75,283.1 830,281.9 845,281.6 860,280.5 875,279.8 890,278.2 900.5,277.5 915,276.5 930,275 945,274.3 963,273.5 972.6,273.3 976.5,274.5 978.7,276.2 979.5,268 980.4,249 981.5,225 982.3,200 982.8,170 983,150 984.8,142.2 988.5,139.7 994.7,137.9 1002.2,136 1010.2,132.6" fill="none" stroke="#22883a" stroke-width="3.2" stroke-linejoin="round" stroke-linecap="round" stroke-dasharray="4.9 7.3" stroke-dashoffset="-1"/>
<path d="M562.5,312.6 C564.58,312.33 571.25,311.57 575,311 C578.75,310.43 582.25,309.65 585,309.2 C587.75,308.75 590,308.25 591.5,308.3 C593,308.35 593.58,309.3 594,309.5 C594.37,306.58 595.35,298.58 596.2,292 C597.05,285.42 597.87,282 599.1,270 C600.33,258 602.28,232.33 603.6,220 C604.92,207.67 605.85,204 607,196 C608.15,188 609.53,178.95 610.5,172 C611.47,165.05 612.13,159.13 612.8,154.3 C613.47,149.47 613.97,146.05 614.5,143 C615.03,139.95 615.47,138.5 616,136 C616.53,133.5 617.18,130.46 617.7,128 C618.22,125.54 618.34,123.62 619.1,121.25 C619.86,118.88 620.89,116.25 622.25,113.75 C623.61,111.25 625.38,108.03 627.25,106.25 C629.12,104.47 631.38,103.81 633.5,103.1 C635.62,102.39 637.92,102.27 640,102 C642.08,101.73 643.5,101.7 646,101.5 C648.5,101.3 652.08,101.09 655,100.8 C657.92,100.51 661.5,99.82 663.5,99.75 C665.5,99.68 665.75,100.19 667,100.4 C668.25,100.61 668.83,100.97 671,101 C673.17,101.03 676.88,100.72 680,100.6 C683.12,100.47 686.04,100.18 689.75,100.25 C693.46,100.32 698.54,100.94 702.25,101 C705.96,101.06 709.04,100.6 712,100.6 C714.96,100.6 716.17,100.88 720,101 C723.83,101.12 730.33,101.4 735,101.3 C739.67,101.2 743.83,100.42 748,100.4 C752.17,100.38 755.5,101 760,101.2 C764.5,101.4 770,101.65 775,101.6 C780,101.55 785,100.87 790,100.9 C795,100.93 800,101.7 805,101.8 C810,101.9 815,101.57 820,101.5 C825,101.43 830.33,101.3 835,101.4 C839.67,101.5 843,102.02 848,102.1 C853,102.18 859.67,101.77 865,101.9 C870.33,102.03 875,102.88 880,102.9 C885,102.92 891.5,101.93 895,102 C898.5,102.07 899,103.33 901,103.3 C903,103.27 903.83,101.9 907,101.8 C910.17,101.7 915.33,102.58 920,102.7 C924.67,102.82 930.83,102.35 935,102.5 C939.17,102.65 940.83,103.42 945,103.6 C949.17,103.78 955.83,103.7 960,103.6 C964.17,103.5 967.67,103.27 970,103 C972.33,102.73 972.92,102.23 974,102 C975.08,101.77 975.68,101.25 976.5,101.6 C977.32,101.95 978.17,102.55 978.9,104.1 C979.63,105.65 980.23,108.18 980.9,110.9 C981.57,113.62 982.1,117.58 982.9,120.4 C983.7,123.22 984.57,125.88 985.7,127.8 C986.83,129.72 988.35,131.07 989.7,131.9 C991.05,132.73 992,132.87 993.8,132.8 C995.6,132.73 997.77,131.57 1000.5,131.5 C1003.23,131.43 1008.58,132.25 1010.2,132.4" fill="none" stroke="#22883a" stroke-width="3" stroke-linejoin="round" stroke-linecap="round"/>
<path d="M994,138.2 C994.63,137.93 996.03,137.2 997.8,136.6 C999.57,136 1002.45,135.3 1004.6,134.6 C1006.75,133.9 1009.68,132.77 1010.7,132.4" fill="none" stroke="#22883a" stroke-width="2.8" stroke-linejoin="round" stroke-linecap="round"/>
<circle cx="1002" cy="135.2" r="1.6" fill="#e61423"/>
<text transform="translate(610.47,258.6) scale(1.0264,1)" style="font-size:15.8px;font-weight:bold">MTSET</text>
<text x="666.3" y="253.4" style="font-size:14px;font-weight:bold">+</text>
<line x1="620.2" y1="265.4" x2="605.5" y2="289.5" stroke="#111" stroke-width="1.8"/>
<polygon points="602.6,293.8 602.8,285.5 609,289.3" fill="#111"/>
<text transform="translate(969.5,83.2) scale(1.0045,1)" style="font-size:16.3px;font-weight:bold">Triton</text>
<line x1="994.4" y1="90" x2="991" y2="119" stroke="#111" stroke-width="1.8"/>
<polygon points="990.4,124 987.4,117.6 994,118.4" fill="#111"/>
</svg></body></html>
